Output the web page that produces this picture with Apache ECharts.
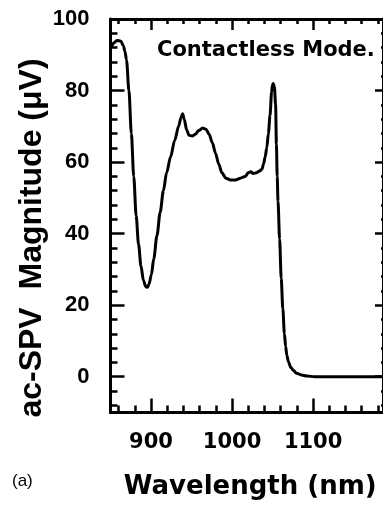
<!DOCTYPE html>
<html>
<head>
<meta charset="utf-8">
<script src="https://cdn.jsdelivr.net/npm/echarts@6/dist/echarts.min.js"></script>
<style>
  html, body { margin: 0; padding: 0; background: #fff; }
  #chart { width: 383px; height: 510px; }
</style>
</head>
<body>
<div id="chart"></div>
<script>
// wavelength (nm) and ac-SPV magnitude (uV)
const wavelengthNm = [
  851, 854, 858, 863, 866, 868, 870, 873, 876, 879, 882, 885, 888, 891, 894, 896, 898,
  901, 904, 908, 912, 916, 920, 925, 930, 935, 938, 940, 942, 945, 948, 952, 956, 960,
  965, 969, 973, 977, 981, 985, 989, 994, 1000, 1006, 1012, 1018, 1022, 1025, 1028, 1032,
  1036, 1039, 1041, 1043, 1045, 1047, 1049, 1051, 1052, 1053, 1054.5, 1056, 1057, 1058,
  1059, 1061, 1063, 1065, 1067, 1068.5, 1070, 1072, 1075, 1078, 1082, 1088, 1095, 1105,
  1120, 1150, 1190
];
const magnitudeUv = [
  92.0, 93.3, 94.0, 93.8, 92.5, 91.0, 88.5, 80, 68, 56, 45, 37, 31, 27, 25.2, 25, 25.8,
  28.5, 33, 39.5, 46, 52, 57, 61.5, 66, 70, 72.5, 73.5, 72, 69, 67.5, 67.3, 67.8, 68.8,
  69.5, 69.2, 67.8, 65.5, 62.5, 59.5, 57, 55.5, 55, 55, 55.5, 56, 57, 57.3, 56.8, 57,
  57.5, 58, 59.5, 61.5, 64, 68, 73, 79.5, 81.5, 82, 81, 76, 65, 56,
  49, 38.5, 27.5, 19, 12, 8.5, 6, 4.2, 2.6, 1.8, 1.0, 0.5, 0.2, 0,
  0, 0, 0
];
const yTicks = [0, 20, 40, 60, 80, 100];
const xTicks = [900, 1000, 1100];

const ink = '#000';
const none = { show: false };

function frameAxis(gridIndex, position, min, max) {
  return {
    type: 'value', gridIndex, position, min, max,
    axisLine: { show: true, onZero: false, lineStyle: { color: ink, width: 3 } },
    axisTick: none, axisLabel: none, splitLine: none
  };
}

function tickAxis(gridIndex, position, min, max, interval, offset, len, label) {
  return {
    type: 'value', gridIndex, position, min, max, interval, offset,
    axisLine: { show: false, onZero: false },
    axisTick: { show: true, inside: true, length: len, lineStyle: { color: ink, width: 2.5 } },
    axisLabel: label || none,
    splitLine: none
  };
}

const yLabel = {
  show: true, margin: 21, color: ink,
  fontFamily: 'Liberation Sans', fontWeight: 'bold', fontSize: 22,
  formatter: (v) => String(v)
};
const xLabel = {
  show: true, margin: 20, color: ink,
  fontFamily: 'DejaVu Sans', fontWeight: 'bold', fontSize: 21,
  formatter: (v) => String(v)
};

const xMain = frameAxis(0, 'bottom', 850, 1190);
xMain.name = 'Wavelength (nm)';
xMain.nameLocation = 'middle';
xMain.nameGap = 62;
xMain.nameTextStyle = {
  color: ink, fontFamily: 'DejaVu Sans', fontWeight: 'bold', fontSize: 26, padding: [0, 0, 0, 7]
};

const option = {
  animation: false,
  backgroundColor: '#fff',
  grid: [
    // frame + data
    { left: 110.5, top: 19, right: -3, bottom: 97.5 },
    // minor ticks (20 nm / 4 uV)
    { left: 118.6, top: 19, right: 5.1, bottom: 104.7 },
    // major ticks (100 nm / 20 uV)
    { left: 151, top: 19, right: 69.9, bottom: 133.3 }
  ],
  xAxis: [
    xMain,
    frameAxis(0, 'top', 850, 1190),
    tickAxis(1, 'bottom', 860, 1180, 20, 7.2, 7),
    tickAxis(1, 'top', 860, 1180, 20, 0, 5),
    tickAxis(2, 'bottom', xTicks[0], xTicks[xTicks.length - 1], 100, 35.8, 14, xLabel),
    tickAxis(2, 'top', xTicks[0], xTicks[xTicks.length - 1], 100, 0, 11)
  ],
  yAxis: [
    frameAxis(0, 'left', -10, 100),
    frameAxis(0, 'right', -10, 100),
    tickAxis(1, 'left', -8, 100, 4, 8.1, 7),
    tickAxis(1, 'right', -8, 100, 4, 8.1, 5),
    tickAxis(2, 'left', yTicks[0], yTicks[yTicks.length - 1], 20, 40.5, 14, yLabel),
    tickAxis(2, 'right', yTicks[0], yTicks[yTicks.length - 1], 20, 72.9, 11)
  ],
  graphic: [
    {
      type: 'text', x: 32, y: 238, rotation: Math.PI / 2,
      style: {
        text: 'ac-SPV  Magnitude (\u03bcV)', fill: ink,
        font: 'bold 32px "Liberation Sans"', align: 'center', verticalAlign: 'middle'
      }
    },
    {
      type: 'text', x: 157, y: 51,
      style: {
        text: 'Contactless Mode.', fill: ink,
        font: 'bold 21px "DejaVu Sans"', align: 'left', verticalAlign: 'middle'
      }
    },
    {
      type: 'text', x: 12, y: 481,
      style: {
        text: '(a)', fill: ink,
        font: '17px "Liberation Sans"', align: 'left', verticalAlign: 'middle'
      }
    }
  ],
  series: [
    {
      type: 'line',
      xAxisIndex: 0,
      yAxisIndex: 0,
      data: wavelengthNm.map((w, i) => [w, magnitudeUv[i]]),
      showSymbol: false,
      smooth: 0.3,
      smoothMonotone: 'x',
      lineStyle: { color: ink, width: 3 },
      clip: true
    }
  ]
};

const myChart = echarts.init(document.getElementById('chart'), null, { renderer: 'canvas' });
myChart.setOption(option);
</script>
</body>
</html>
